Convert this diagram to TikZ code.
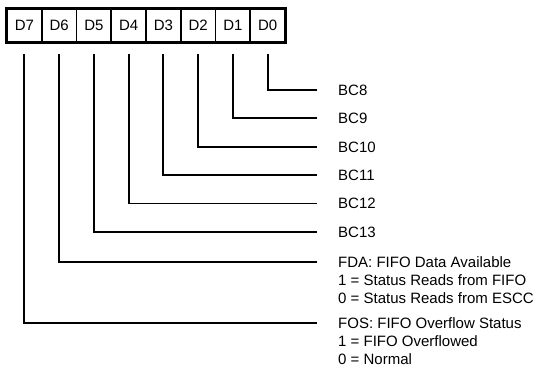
\documentclass[tikz,border=0pt]{standalone}
\usepackage{fontspec}
\setmainfont{Liberation Sans}
\usetikzlibrary{positioning}

\begin{document}
\begin{tikzpicture}[x=1pt, y=-1pt, font=\fontsize{15}{17.5}\selectfont,
    bit/.style={draw, line width=1.6pt, minimum width=34.75pt, minimum height=33pt, inner sep=0pt},
    wire/.style={line width=1.8pt},
    txt/.style={anchor=west, inner sep=0pt, text height=10.7pt, text depth=0pt}]
    \useasboundingbox (0, 0) rectangle (550, 369);

    % register bits
    \foreach \b in {0,...,7}
        \node[bit] (d\b) at ({7 + 34.75*(7.5-\b)}, 25.5) {D\b};
    \draw[line width=2.8pt] (d7.north west) rectangle (d0.south east);

    % descriptions
    \foreach \b/\t in {0/BC8, 1/BC9, 2/BC10, 3/BC11, 4/BC12, 5/BC13}
        \node[txt] (l\b) at (338, {90 + 28.4*\b}) {\t};
    \node[txt] (l6) at (338, 262) {FDA: FIFO Data Available};
    \node[txt, below right=6.8pt and 0pt of l6.south west] (l6a) {1 = Status Reads from FIFO};
    \node[txt, below right=6.8pt and 0pt of l6a.south west] (l6b) {0 = Status Reads from ESCC};
    \node[txt] (l7) at (338, 323) {FOS: FIFO Overflow Status};
    \node[txt, below right=6.8pt and 0pt of l7.south west] (l7a) {1 = FIFO Overflowed};
    \node[txt, below right=6.8pt and 0pt of l7a.south west] (l7b) {0 = Normal};

    % leader lines
    \foreach \b in {0,...,7}
        \draw[wire] ([yshift=-11pt]d\b.south) |- ([xshift=-21pt]l\b.west);
\end{tikzpicture}
\end{document}
